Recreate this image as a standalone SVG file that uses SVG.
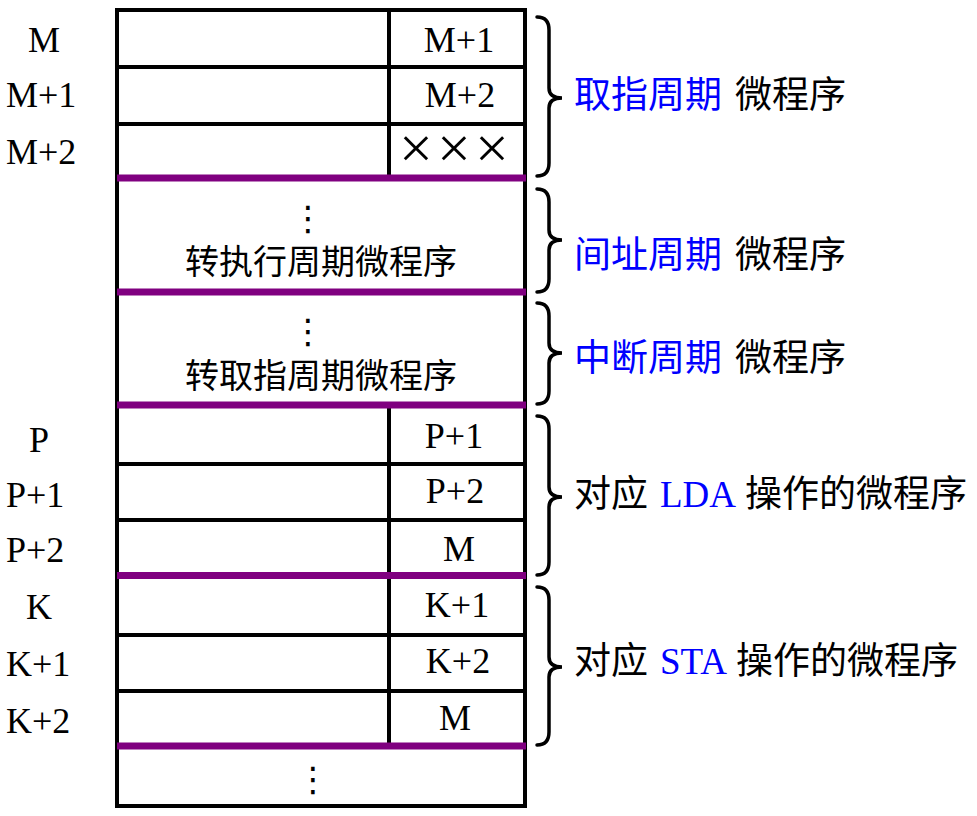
<svg xmlns="http://www.w3.org/2000/svg" width="977" height="816" viewBox="0 0 977 816">
<style>
.grid{stroke:#000;stroke-width:4;fill:none}
.sep{stroke:#800080;stroke-width:7}
.br{stroke:#000;stroke-width:3.5;fill:none;stroke-linecap:round}
.lat{font-family:"Liberation Serif","Times New Roman",serif;font-size:36px;fill:#000}
.cjk{font-family:"Noto Sans CJK SC",sans-serif;font-size:37px;fill:#000}
.inner{font-family:"Noto Sans CJK SC",sans-serif;font-size:34px;fill:#000;text-anchor:middle}
.blue{fill:#0000ff}
.dots{font-family:"DejaVu Sans",sans-serif;font-size:34px;fill:#000;text-anchor:middle}
.mid{text-anchor:middle}
.x{font-size:60px}
</style>
<rect width="977" height="816" fill="#fff"/>
<g id="table">
<rect class="grid" x="117" y="10" width="408" height="796"/>
<line class="grid" x1="389" y1="10" x2="389" y2="178"/>
<line class="grid" x1="389" y1="405" x2="389" y2="746"/>
<line class="grid" x1="117" y1="67" x2="525" y2="67"/>
<line class="grid" x1="117" y1="124" x2="525" y2="124"/>
<line class="grid" x1="117" y1="464" x2="525" y2="464"/>
<line class="grid" x1="117" y1="520" x2="525" y2="520"/>
<line class="grid" x1="117" y1="635" x2="525" y2="635"/>
<line class="grid" x1="117" y1="691" x2="525" y2="691"/>
<line class="sep" x1="117" y1="178" x2="526" y2="178"/>
<line class="sep" x1="117" y1="292" x2="526" y2="292"/>
<line class="sep" x1="117" y1="405" x2="526" y2="405"/>
<line class="sep" x1="117" y1="575.5" x2="526" y2="575.5"/>
<line class="sep" x1="117" y1="746" x2="526" y2="746"/>
</g>
<g id="addresses">
<text class="lat mid" x="44" y="52">M</text>
<text class="lat" x="6" y="107">M+1</text>
<text class="lat" x="6" y="164">M+2</text>
<text class="lat mid" x="39" y="452">P</text>
<text class="lat" x="6" y="507">P+1</text>
<text class="lat" x="6" y="562">P+2</text>
<text class="lat mid" x="39" y="619">K</text>
<text class="lat" x="6" y="676">K+1</text>
<text class="lat" x="6" y="733">K+2</text>
</g>
<g id="next-addresses">
<text class="lat mid" x="459" y="52">M+1</text>
<text class="lat mid" x="460" y="107">M+2</text>
<text class="lat mid x" x="416" y="168">×</text>
<text class="lat mid x" x="454" y="168">×</text>
<text class="lat mid x" x="492" y="168">×</text>
<text class="lat mid" x="454" y="448">P+1</text>
<text class="lat mid" x="455" y="503">P+2</text>
<text class="lat mid" x="459" y="561">M</text>
<text class="lat mid" x="457" y="617">K+1</text>
<text class="lat mid" x="458" y="673">K+2</text>
<text class="lat mid" x="455" y="730">M</text>
</g>
<g id="indirect-block">
<text class="dots" x="308" y="230">⋮</text>
<text class="inner" x="321" y="274">转执行周期微程序</text>
</g>
<g id="interrupt-block">
<text class="dots" x="308" y="343">⋮</text>
<text class="inner" x="321" y="388">转取指周期微程序</text>
</g>
<g id="tail-block">
<text class="dots" x="313" y="791">⋮</text>
</g>
<g id="braces">
<path class="br" d="M537 17 C546 17 549 22 549 30 L549 88 C549 95 554 98 562 98 C554 98 549 101 549 108 L549 163 C549 171 546 176 537 176"/>
<path class="br" d="M537 189 C546 189 549 194 549 202 L549 230 C549 237 554 240 562 240 C554 240 549 243 549 250 L549 279 C549 287 546 292 537 292"/>
<path class="br" d="M537 303 C546 303 549 308 549 316 L549 343 C549 350 554 353 562 353 C554 353 549 356 549 363 L549 391 C549 399 546 404 537 404"/>
<path class="br" d="M537 416 C546 416 549 421 549 429 L549 487 C549 494 554 497 562 497 C554 497 549 500 549 507 L549 562 C549 570 546 575 537 575"/>
<path class="br" d="M537 587 C546 587 549 592 549 600 L549 657 C549 664 554 667 562 667 C554 667 549 670 549 677 L549 732 C549 740 546 745 537 745"/>
</g>
<g id="labels">
<text class="cjk" y="108"><tspan class="blue" x="574">取指周期</tspan><tspan x="735">微程序</tspan></text>
<text class="cjk" y="268"><tspan class="blue" x="574">间址周期</tspan><tspan x="735">微程序</tspan></text>
<text class="cjk" y="371"><tspan class="blue" x="574">中断周期</tspan><tspan x="735">微程序</tspan></text>
<text class="cjk" y="507"><tspan x="574">对应</tspan><tspan class="blue" x="660" style="font-family:'Liberation Serif',serif;font-size:37px">LDA</tspan><tspan x="745">操作的微程序</tspan></text>
<text class="cjk" y="674"><tspan x="574">对应</tspan><tspan class="blue" x="660" style="font-family:'Liberation Serif',serif;font-size:37px">STA</tspan><tspan x="736">操作的微程序</tspan></text>
</g>
</svg>
